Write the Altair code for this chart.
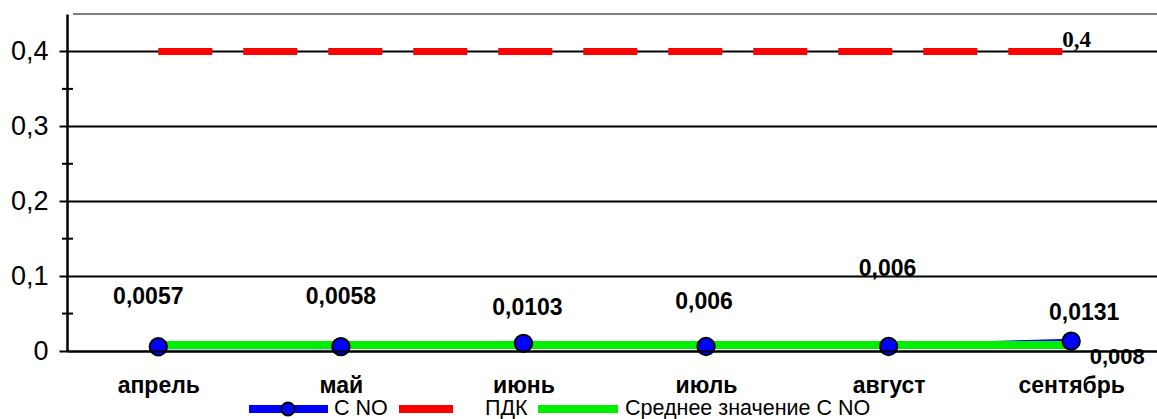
import altair as alt
import pandas as pd

# Monthly NO concentrations, limit value (ПДК) and period average
months = ["апрель", "май", "июнь", "июль", "август", "сентябрь"]
c_no = [0.0057, 0.0058, 0.0103, 0.006, 0.006, 0.0131]
pdk_value = 0.4
avg_value = 0.008
y_ticks = [0, 0.1, 0.2, 0.3, 0.4]
y_minor = [0.05, 0.15, 0.25, 0.35]

# label placement (pixel nudges for each monthly value label)
label_dx = [-10, 0, 4, -2, -1, 13]
label_dy = [-50, -50, -35, -45, -78, -28]

W, H = 1090, 337
idx = list(range(len(months)))


def fmt(v):
    return f"{v:g}".replace(".", ",")


df = pd.DataFrame({
    "i": idx,
    "month": months,
    "c_no": c_no,
    "label": [fmt(v) for v in c_no],
    "avg": [avg_value] * len(months),
    "pdk": [pdk_value] * len(months),
})
df_last = df.tail(1).assign(avg_label=fmt(avg_value), pdk_label=fmt(pdk_value))

month_expr = "[" + ",".join(f"'{m}'" for m in months) + "][datum.value]"

x_scale = alt.Scale(domain=[-0.5, 5.47], nice=False, zero=False)
y_scale = alt.Scale(domain=[0, 0.45], nice=False)

x_enc = alt.X(
    "i:Q", scale=x_scale,
    axis=alt.Axis(
        values=idx, labelExpr=month_expr, title=None, grid=False,
        ticks=False, domain=True, domainColor="black", domainWidth=2,
        labelFont="Liberation Sans", labelFontSize=23, labelFontWeight="bold",
        labelColor="black", labelBaseline="alphabetic", labelPadding=41,
        zindex=1,
    ),
)
y_axis = alt.Axis(
    values=y_ticks, title=None, grid=True, gridColor="black", gridWidth=2,
    gridOpacity=1, domainColor="black", domainWidth=2.5, tickColor="black",
    tickWidth=2, tickSize=8,
    labelExpr="datum.value == 0 ? '0' : replace(format(datum.value, '.1f'), '.', ',')",
    labelFont="Liberation Sans", labelFontSize=27, labelColor="black",
    labelPadding=11,
)

base = alt.Chart(df)

top_border = base.mark_rule(color="#808080", strokeWidth=2).encode(
    x=alt.value(6), x2=alt.value(W), y=alt.value(0)
).transform_filter("datum.i == 0")

minor = alt.Chart(pd.DataFrame({"v": y_minor})).mark_rule(
    color="black", strokeWidth=2
).encode(x=alt.value(-5), x2=alt.value(6), y=alt.Y("v:Q", scale=y_scale, axis=y_axis))

no_line = base.mark_line(color="#0000ff", strokeWidth=5).encode(
    x=x_enc, y=alt.Y("c_no:Q", scale=y_scale, axis=y_axis)
)
avg_line = base.mark_line(color="#00ee00", strokeWidth=8).encode(
    x=x_enc, y=alt.Y("avg:Q", scale=y_scale)
)
pdk_line = base.mark_line(color="#ff0000", strokeWidth=7, strokeDash=[54, 31]).encode(
    x=x_enc, y=alt.Y("pdk:Q", scale=y_scale)
)
no_points = base.mark_point(
    shape="circle", filled=True, fill="#0000ff", stroke="black",
    strokeWidth=2, size=300, opacity=1,
).encode(x=x_enc, y=alt.Y("c_no:Q", scale=y_scale))

# one text layer per month so each label keeps its own nudge
no_labels = [
    base.transform_filter(f"datum.i == {i}").mark_text(
        font="Liberation Sans", fontSize=23, fontWeight="bold", color="black",
        baseline="middle", align="center", dx=ddx, dy=ddy,
    ).encode(x=x_enc, y=alt.Y("c_no:Q", scale=y_scale), text="label:N")
    for i, (ddx, ddy) in enumerate(zip(label_dx, label_dy))
]

avg_label = alt.Chart(df_last).mark_text(
    font="Liberation Sans", fontSize=22, fontWeight="bold", color="black",
    baseline="middle", align="center", dx=46, dy=12,
).encode(x=x_enc, y=alt.Y("avg:Q", scale=y_scale), text="avg_label:N")

pdk_label = alt.Chart(df_last).mark_text(
    font="Liberation Serif", fontSize=23, fontWeight="bold", color="black",
    baseline="alphabetic", align="left", dx=-9, dy=-4,
).encode(x=x_enc, y=alt.Y("pdk:Q", scale=y_scale), text="pdk_label:N")

# legend row under the axis
one = alt.Chart(pd.DataFrame({"k": [0]}))
LY = 395
leg = [
    one.mark_rule(color="#0000ff", strokeWidth=8).encode(
        x=alt.value(182), x2=alt.value(261), y=alt.value(LY)),
    one.mark_point(shape="circle", filled=True, fill="#0000ff", stroke="black",
                   strokeWidth=2, size=170, opacity=1).encode(
        x=alt.value(221), y=alt.value(LY)),
    one.mark_text(font="Liberation Sans", fontSize=21.5, align="left",
                  baseline="alphabetic", color="black").encode(
        x=alt.value(267), y=alt.value(LY + 6), text=alt.value("C NO")),
    one.mark_rule(color="#ff0000", strokeWidth=8).encode(
        x=alt.value(332), x2=alt.value(386), y=alt.value(LY)),
    one.mark_text(font="Liberation Sans", fontSize=21.5, align="left",
                  baseline="alphabetic", color="black").encode(
        x=alt.value(418), y=alt.value(LY + 6), text=alt.value("ПДК")),
    one.mark_rule(color="#00ee00", strokeWidth=8).encode(
        x=alt.value(471), x2=alt.value(551), y=alt.value(LY)),
    one.mark_text(font="Liberation Sans", fontSize=21.5, align="left",
                  baseline="alphabetic", color="black").encode(
        x=alt.value(558), y=alt.value(LY + 6), text=alt.value("Среднее значение С NO")),
]

chart = alt.layer(
    minor, top_border, avg_label, no_line, avg_line, pdk_line, no_points,
    *no_labels, pdk_label, *leg
).properties(
    width=W, height=H,
    autosize=alt.AutoSizeParams(type="none"),
    padding={"left": 67, "top": 14, "right": 0, "bottom": 68},
    background="white",
).configure_view(strokeWidth=0)

chart.save("out.html", embed_options={"renderer": "svg", "actions": False})
